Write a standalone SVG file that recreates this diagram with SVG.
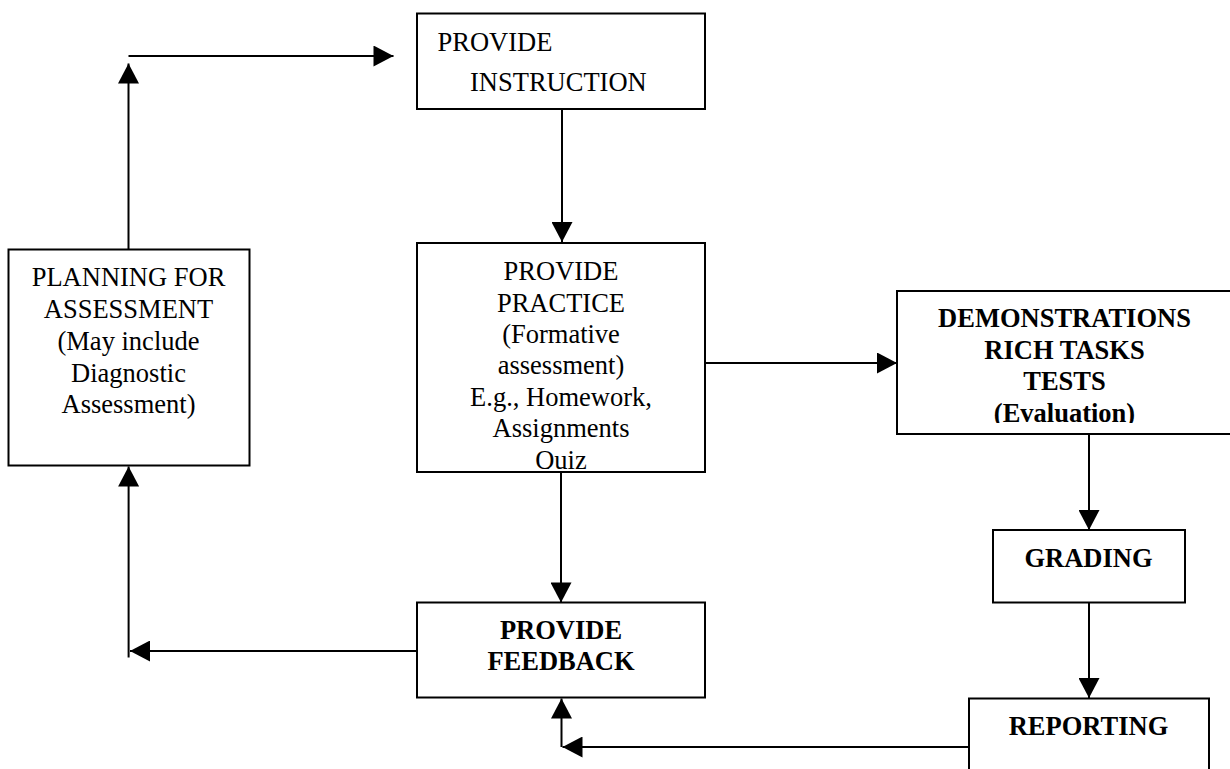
<svg xmlns="http://www.w3.org/2000/svg" width="1230" height="769" viewBox="0 0 1230 769">
<style>
.box{fill:#fff;stroke:#000;stroke-width:2}
.t{font-family:"Liberation Serif","Times New Roman",serif;font-size:26.5px;fill:#000}
.b{font-weight:bold}
.c{text-anchor:middle}
.con{fill:none;stroke:#000;stroke-width:2}
.arr{marker-end:url(#ah)}
</style>
<defs>
<marker id="ah" markerUnits="userSpaceOnUse" markerWidth="21" markerHeight="21" refX="20" refY="10.5" orient="auto" viewBox="0 0 20 21">
<path d="M0,0 L20,10.5 L0,21 z" fill="#000"/>
</marker>
<clipPath id="clipPractice"><rect x="418" y="244" width="286" height="225"/></clipPath>
<clipPath id="clipDemo"><rect x="898" y="292" width="340" height="131"/></clipPath>
</defs>

<g id="connectors">
<line class="con arr" x1="128.5" y1="250" x2="128.5" y2="63.5"/>
<line class="con arr" x1="128.5" y1="56" x2="393.5" y2="56"/>
<line class="con arr" x1="562" y1="109" x2="562" y2="242"/>
<line class="con arr" x1="705" y1="363" x2="897" y2="363"/>
<line class="con arr" x1="1089" y1="434" x2="1089" y2="530"/>
<line class="con arr" x1="1089" y1="602" x2="1089" y2="698"/>
<line class="con arr" x1="561" y1="472" x2="561" y2="602.5"/>
<line class="con arr" x1="417" y1="651" x2="130" y2="651"/>
<line class="con arr" x1="128.6" y1="657.5" x2="128.6" y2="466.5"/>
<line class="con arr" x1="969" y1="747" x2="562.5" y2="747"/>
<line class="con arr" x1="561.5" y1="747" x2="561.5" y2="698.5"/>
</g>

<g id="node-instruction">
<rect class="box" x="417" y="13.5" width="288" height="95.5"/>
<text class="t" x="437.5" y="50.5">PROVIDE</text>
<text class="t" x="470" y="90.5">INSTRUCTION</text>
</g>

<g id="node-planning">
<rect class="box" x="8.5" y="249.5" width="241" height="216"/>
<text class="t c" x="128.5" y="286">PLANNING FOR</text>
<text class="t c" x="128.5" y="318">ASSESSMENT</text>
<text class="t c" x="128.5" y="349.5">(May include</text>
<text class="t c" x="128.5" y="381.5">Diagnostic</text>
<text class="t c" x="128.5" y="413">Assessment)</text>
</g>

<g id="node-practice">
<rect class="box" x="417" y="243" width="288" height="229"/>
<g clip-path="url(#clipPractice)">
<text class="t c" x="561" y="280">PROVIDE</text>
<text class="t c" x="561" y="311.5">PRACTICE</text>
<text class="t c" x="561" y="342.5">(Formative</text>
<text class="t c" x="561" y="374">assessment)</text>
<text class="t c" x="561" y="405.5">E.g., Homework,</text>
<text class="t c" x="561" y="437">Assignments</text>
<text class="t c" x="561" y="468.5">Quiz</text>
</g>
</g>

<g id="node-demonstrations">
<rect class="box" x="897" y="291" width="345" height="143"/>
<g clip-path="url(#clipDemo)">
<text class="t b c" x="1064.5" y="326.5">DEMONSTRATIONS</text>
<text class="t b c" x="1064.5" y="358.5">RICH TASKS</text>
<text class="t b c" x="1064.5" y="390">TESTS</text>
<text class="t b c" x="1064.5" y="422">(Evaluation)</text>
</g>
</g>

<g id="node-grading">
<rect class="box" x="993" y="530" width="192" height="72.5"/>
<text class="t b c" x="1088.5" y="566.5">GRADING</text>
</g>

<g id="node-feedback">
<rect class="box" x="417" y="602.5" width="288" height="95"/>
<text class="t b c" x="561" y="639">PROVIDE</text>
<text class="t b c" x="561" y="670">FEEDBACK</text>
</g>

<g id="node-reporting">
<rect class="box" x="969" y="698.5" width="240" height="90"/>
<text class="t b c" x="1088.5" y="734.5">REPORTING</text>
</g>
</svg>
